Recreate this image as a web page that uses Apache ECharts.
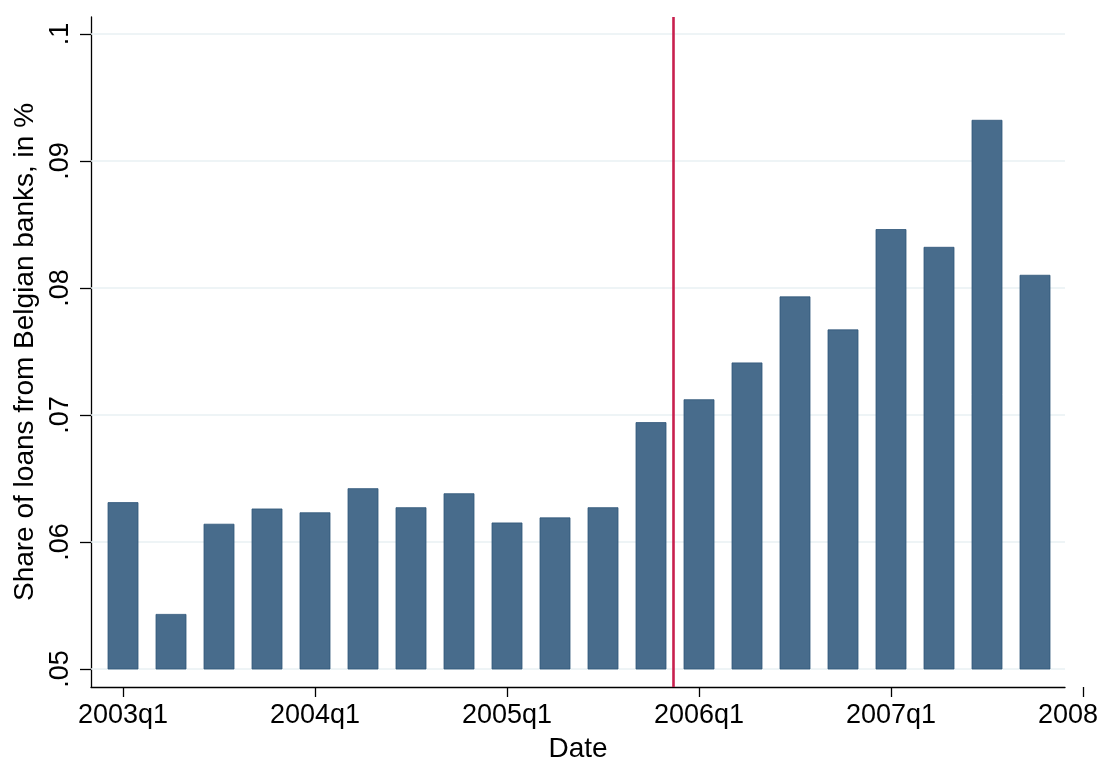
<!DOCTYPE html>
<html>
<head>
<meta charset="utf-8">
<script src="https://cdn.jsdelivr.net/npm/echarts@6/dist/echarts.min.js"></script>
<style>
html,body{margin:0;padding:0;background:#fff;}
#chart{width:1098px;height:758px;}
</style>
</head>
<body>
<div id="chart"></div>
<script>
// Data
const quarters = ['2003q1','2003q2','2003q3','2003q4','2004q1','2004q2','2004q3','2004q4',
  '2005q1','2005q2','2005q3','2005q4','2006q1','2006q2','2006q3','2006q4',
  '2007q1','2007q2','2007q3','2007q4'];
const shareValues = [0.0631,0.0543,0.0614,0.0626,0.0623,0.0642,0.0627,0.0638,
  0.0615,0.0619,0.0627,0.0694,0.0712,0.0741,0.0793,0.0767,
  0.0846,0.0832,0.0932,0.0810];
const barBase = 0.05;
const xTickValues = [0,4,8,12,16,20];
const xTickLabels = ['2003q1','2004q1','2005q1','2006q1','2007q1','2008q1'];
const yTickValues = [0.05,0.06,0.07,0.08,0.09,0.1];
const yTickLabels = ['.05','.06','.07','.08','.09','.1'];
const eventLineX = 11.47;

const FONT = "'Liberation Sans', Arial, sans-serif";
const barData = quarters.map((q,i)=>[i, shareValues[i]]);
const yLabelMap = {};
yTickValues.forEach((v,i)=>{ yLabelMap[v.toFixed(2)] = yTickLabels[i]; });
const xLabelMap = {};
xTickValues.forEach((v,i)=>{ xLabelMap[v] = xTickLabels[i]; });

const BAR_FRACTION = 0.625; // bar width as share of one quarter

const yMin = 0.048583, yMax = 0.10133;
const chart = echarts.init(document.getElementById('chart'), null, {renderer:'canvas'});
chart.setOption({
  backgroundColor:'#ffffff',
  animation:false,
  grid:[
    {left:91, right:33, top:17, bottom:71, containLabel:false, outerBoundsMode:'none'},
    {left:91, right:0, top:17, bottom:71, containLabel:false, outerBoundsMode:'none'}
  ],
  xAxis:[
    {type:'value', gridIndex:0, min:-0.667, max:19.625,
     axisLine:{show:true, onZero:false, lineStyle:{color:'#000', width:1.3}},
     axisTick:{show:false}, axisLabel:{show:false}, splitLine:{show:false},
     name:'Date', nameLocation:'middle', nameGap:48,
     nameTextStyle:{color:'#000', fontSize:28, fontFamily:FONT}},
    {type:'value', gridIndex:1, min:-0.667, max:20.3125,
     axisLine:{show:false, onZero:false},
     axisTick:{show:true, customValues:xTickValues, length:10, lineStyle:{color:'#000', width:1.3}},
     axisLabel:{show:true, customValues:xTickValues, margin:15, color:'#000', fontSize:27, fontFamily:FONT,
       formatter:v=>xLabelMap[v]!==undefined?xLabelMap[v]:''},
     splitLine:{show:false}}
  ],
  yAxis:[
    {type:'value', gridIndex:0, min:yMin, max:yMax,
     axisLine:{show:true, onZero:false, lineStyle:{color:'#000', width:1.3}},
     axisTick:{show:true, customValues:yTickValues, length:11, lineStyle:{color:'#000', width:1.3}},
     axisLabel:{show:true, customValues:yTickValues, rotate:90, margin:17, color:'#000', fontSize:27, fontFamily:FONT,
       formatter:v=>yLabelMap[Number(v).toFixed(2)]||''},
     splitLine:{show:false},
     name:'Share of loans from Belgian banks, in %', nameLocation:'middle', nameRotate:90, nameGap:51,
     nameTextStyle:{color:'#000', fontSize:28, fontFamily:FONT}},
    {type:'value', gridIndex:1, min:yMin, max:yMax, show:false}
  ],
  series:[
    {type:'custom', name:'share', xAxisIndex:0, yAxisIndex:0, data:barData, z:3, clip:true,
     renderItem:function(params, api){
       const x = api.value(0), y = api.value(1);
       const top = api.coord([x, y]);
       const bot = api.coord([x, barBase]);
       const w = api.size([1, 0])[0] * BAR_FRACTION;
       return {type:'rect', shape:{x:top[0]-w/2, y:top[1], width:w, height:bot[1]-top[1]},
         style:{fill:'#486c8c', stroke:'#2f5679', lineWidth:0.8}};
     },
     encode:{x:0, y:1},
     markLine:{silent:true, symbol:'none', z:1, label:{show:false}, animation:false,
       lineStyle:{color:'#e9f0f3', width:1.6, type:'solid'},
       data:yTickValues.map(v=>({yAxis:v}))}},
    {type:'line', name:'event', xAxisIndex:0, yAxisIndex:0, data:[], z:6, showSymbol:false,
     markLine:{silent:true, symbol:'none', z:6, label:{show:false}, animation:false,
       lineStyle:{color:'#c8204e', width:2.6, type:'solid'},
       data:[{xAxis:eventLineX}]}},
    {type:'scatter', xAxisIndex:1, yAxisIndex:1, data:[], silent:true}
  ]
});
</script>
</body>
</html>
